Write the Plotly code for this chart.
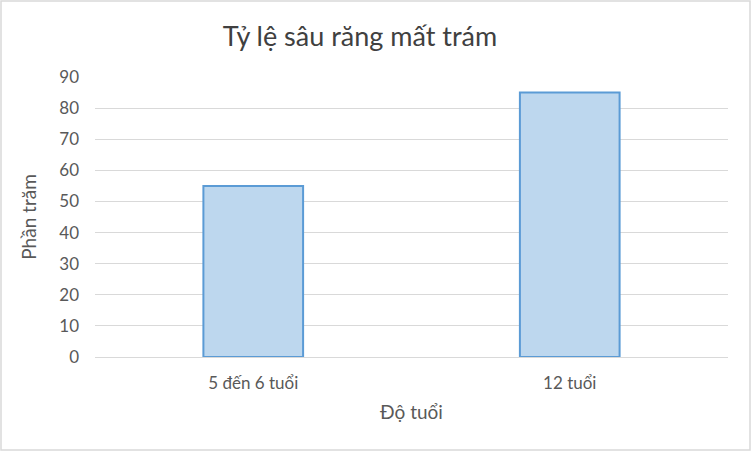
import plotly.graph_objects as go

categories = ["5 đến 6 tuổi", "12 tuổi"]
values = [55, 85]
y_ticks = [0, 10, 20, 30, 40, 50, 60, 70, 80, 90]

W, H = 752, 452
ml, mr, mt, mb = 95, 24, 77, 95
pw, ph = W - ml - mr, H - mt - mb

fig = go.Figure(
    go.Bar(
        x=categories,
        y=values,
        marker=dict(color="#BDD7EE", line=dict(color="#5B9BD5", width=2)),
    )
)

fig.update_layout(
    width=W,
    height=H,
    margin=dict(l=ml, r=mr, t=mt, b=mb),
    paper_bgcolor="white",
    plot_bgcolor="white",
    bargap=0.685,
    showlegend=False,
    font=dict(family="Lato, Open Sans, sans-serif", color="#595959", size=17),
    title=dict(
        text="Tỷ lệ sâu răng mất trám",
        x=360 / W,
        xref="container",
        xanchor="center",
        y=1 - 37 / H,
        yref="container",
        yanchor="middle",
        font=dict(size=27, color="#404040"),
    ),
)

fig.update_yaxes(
    range=[0, 90],
    tickvals=y_ticks,
    showgrid=True,
    gridcolor="#D9D9D9",
    gridwidth=1.3,
    zeroline=False,
    showline=False,
    ticks="",
    ticklabelstandoff=15,
    title=dict(text="Phần trăm", font=dict(size=19, color="#595959"), standoff=17),
)

fig.update_xaxes(
    showline=True,
    linecolor="#D9D9D9",
    linewidth=1.3,
    ticks="",
    ticklabelstandoff=10,
    title=dict(text="Độ tuổi", font=dict(size=19, color="#595959"), standoff=14),
)

# outer chart frame
fig.add_shape(
    type="rect",
    xref="paper",
    yref="paper",
    x0=-(ml - 1) / pw,
    x1=1 + (mr - 2) / pw,
    y0=-(mb - 2) / ph,
    y1=1 + (mt - 1) / ph,
    line=dict(color="#D9D9D9", width=1.5),
    fillcolor="rgba(0,0,0,0)",
    layer="below",
)

fig.write_html(
    "out.html",
    config={"displayModeBar": False},
    post_script="document.body.style.margin='0';",
)
